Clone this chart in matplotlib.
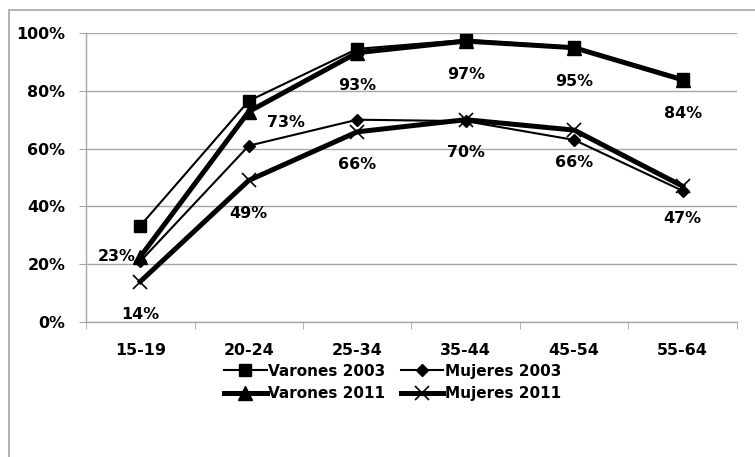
import matplotlib
matplotlib.use("Agg")
import matplotlib.pyplot as plt
from matplotlib.lines import Line2D

plt.rcParams['font.family'] = ['DejaVu Sans']
plt.rcParams['font.weight'] = 'bold'

# data (percent)
age_groups = ['15-19', '20-24', '25-34', '35-44', '45-54', '55-64']
varones_2003 = [33.3, 76.5, 94.5, 97.6, 95.2, 84.2]
mujeres_2003 = [21.0, 61.0, 70.0, 69.5, 63.0, 45.4]
varones_2011 = [22.6, 72.8, 93.2, 97.2, 94.9, 83.8]
mujeres_2011 = [14.0, 49.0, 65.8, 70.0, 66.4, 47.0]

grid_col = '#a6a6a6'
fs = 11.4

fig = plt.figure(figsize=(7.55, 4.57), dpi=100)
ax = fig.add_axes([0.114, 0.2954, 0.862, 0.6324])

x = list(range(len(age_groups)))

l1, = ax.plot(x, varones_2003, color='black', lw=1.5, marker='s', ms=8.5,
              label='Varones 2003', zorder=3)
l2, = ax.plot(x, mujeres_2003, color='black', lw=1.5, marker='D', ms=6,
              label='Mujeres 2003', zorder=3)
l3, = ax.plot(x, varones_2011, color='black', lw=3.6, marker='^', ms=10,
              label='Varones 2011', zorder=4)
l4, = ax.plot(x, mujeres_2011, color='black', lw=3.6, marker='x', ms=10, mew=1.2,
              label='Mujeres 2011', zorder=4)

# data labels for the 2011 series
for i, v in enumerate(varones_2011):
    if i == 0:
        off = (-17, 0)
    elif i == 1:
        off = (27, -8)
    else:
        off = (0, -24)
    ax.annotate(f'{round(v)}%', (i, v), xytext=off, textcoords='offset points',
                ha='center', va='center', fontsize=fs, fontweight='bold', zorder=5)
for i, v in enumerate(mujeres_2011):
    ax.annotate(f'{round(v)}%', (i, v), xytext=(0, -23.5), textcoords='offset points',
                ha='center', va='center', fontsize=fs, fontweight='bold', zorder=5)

ax.set_xlim(-0.5, len(age_groups) - 0.5)
ax.set_ylim(0, 100)
ax.set_yticks(range(0, 101, 20))
ax.set_yticklabels([f'{t}%' for t in range(0, 101, 20)])
ax.set_xticks(x)
ax.set_xticklabels(age_groups)
ax.set_xticks([i - 0.5 for i in range(len(age_groups) + 1)], minor=True)
ax.tick_params(axis='x', which='major', length=0, pad=15, labelsize=fs)
ax.tick_params(axis='x', which='minor', length=5, color=grid_col, direction='out')
ax.tick_params(axis='y', length=5, color=grid_col, labelsize=fs, pad=10)
for lab in ax.get_xticklabels() + ax.get_yticklabels():
    lab.set_fontweight('bold')

ax.yaxis.grid(True, color=grid_col, lw=1)
ax.set_axisbelow(True)
for side in ['top', 'right']:
    ax.spines[side].set_visible(False)
for side in ['left', 'bottom']:
    ax.spines[side].set_color(grid_col)
    ax.spines[side].set_linewidth(1)

# outer chart border (cut off on right and bottom)
fig.add_artist(Line2D([10 / 755, 1], [447 / 457, 447 / 457], color=grid_col, lw=1.2))
fig.add_artist(Line2D([9 / 755, 9 / 755], [0, 447 / 457], color=grid_col, lw=1.2))

# legend: row 1 = 2003, row 2 = 2011 (matplotlib fills by column)
fig.legend([l1, l3, l2, l4], ['Varones 2003', 'Varones 2011', 'Mujeres 2003', 'Mujeres 2011'],
           loc='center', bbox_to_anchor=(0.52, 0.163), ncol=2, frameon=False,
           handlelength=2.8, handletextpad=0.1, columnspacing=1.0,
           labelspacing=0.5, prop={'weight': 'bold', 'size': 11})

fig.savefig('out.png', dpi=100)
